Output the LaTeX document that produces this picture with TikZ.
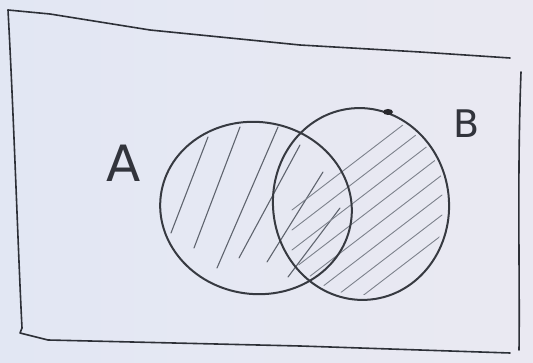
\documentclass[tikz,border=0pt]{standalone}
\usepackage{fontspec}
\setsansfont{DejaVu Sans}
\definecolor{paperA}{RGB}{226,231,243}
\definecolor{paperB}{RGB}{234,233,242}
\definecolor{ink}{RGB}{55,58,65}
\definecolor{inkframe}{RGB}{45,48,55}
\definecolor{inkA}{RGB}{95,100,110}
\definecolor{inkB}{RGB}{125,130,140}
\definecolor{inklbl}{RGB}{50,52,60}
\definecolor{inkdot}{RGB}{40,40,45}
\begin{document}
\begin{tikzpicture}[x=1pt,y=-1pt,
  pen/.style={draw=ink, line width=2pt, line cap=round, line join=round},
  frame/.style={draw=inkframe, line width=1.6pt, line cap=round, line join=round},
  hatchA/.style={draw=inkA, line width=1.1pt, line cap=round},
  hatchB/.style={draw=inkB, line width=0.9pt, line cap=round},
  lbl/.style={font=\sffamily\fontsize{50}{50}\selectfont, text=inklbl, inner sep=0pt}
]
\useasboundingbox (0,0) rectangle (533,363);
\shade[left color=paperA, right color=paperB] (0,0) rectangle (533,363);
% frame
\draw[frame] (8,10) -- (50,14) -- (150,30) -- (300,45) -- (420,52) -- (510,58);
\draw[frame] (8,10) .. controls (14,120) and (18,250) .. (22,328) -- (20,333) -- (48,340) -- (300,346) -- (510,353);
\draw[frame] (521,72) .. controls (517,180) and (520,280) .. (519,350);
% hatching A
\draw[hatchA] (171,233) -- (208,137);
\draw[hatchA] (194,248) -- (240,127);
\draw[hatchA] (217,268) -- (278,127);
\draw[hatchA] (239,258) -- (300,145);
\draw[hatchA] (267,262) -- (323,172);
\draw[hatchA] (288,277) -- (340,208);
% hatching B
\begin{scope}
  \clip (361,204) ellipse [x radius=84, y radius=91];
  \foreach \y in {150,170,190,210,230,250,270,290,310} {
    \draw[hatchB] (292,\y+60) -- ++(150,-115);
  }
\end{scope}
% circles
\draw[pen, rotate around={-8:(256,208)}] (256,208) ellipse [x radius=96, y radius=86];
\draw[pen, rotate around={6:(361,204)}] (361,204) ellipse [x radius=88, y radius=96];
\fill[inkdot] (388,112) ellipse [x radius=5, y radius=3];
% labels
\node[lbl] (labelA) at (124,163) {A};
\node[lbl, font=\sffamily\fontsize{38}{38}\selectfont] (labelB) at (467,124) {B};
\end{tikzpicture}
\end{document}
